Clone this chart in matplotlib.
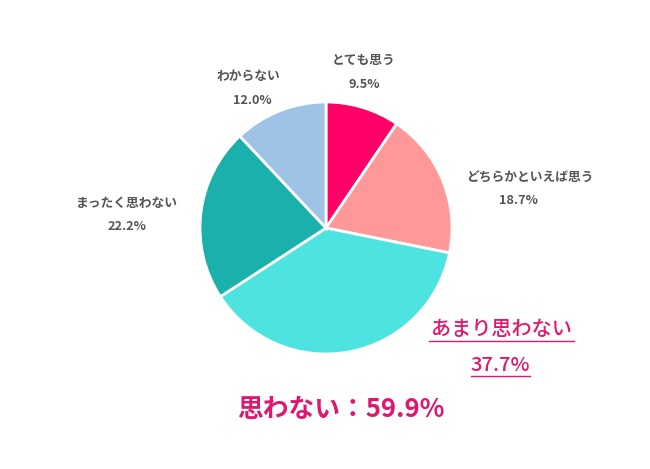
import matplotlib
matplotlib.use("Agg")
import matplotlib.pyplot as plt

plt.rcParams['font.family'] = ['Noto Sans CJK JP', 'DejaVu Sans']

labels = ["とても思う", "どちらかといえば思う", "あまり思わない", "まったく思わない", "わからない"]
values = [9.5, 18.7, 37.7, 22.2, 12.0]
colors = ["#FF0066", "#FF9999", "#4DE3E0", "#1AB0AC", "#9FC3E6"]
total_label = "思わない：59.9%"

W, H = 650, 469
fig = plt.figure(figsize=(W / 100, H / 100), dpi=100)
ax = fig.add_axes([0, 0, 1, 1])
ax.set_xlim(0, W)
ax.set_ylim(0, H)
ax.set_aspect('equal')
ax.axis('off')

def Y(py):
    return H - py

ax.pie(values, colors=colors, startangle=90, counterclock=False,
       center=(326, Y(228)), radius=126,
       wedgeprops=dict(edgecolor='white', linewidth=2))
ax.set_xlim(0, W)
ax.set_ylim(0, H)

gray = "#555555"
pos = {
    "とても思う": ((364, 60), (364, 84)),
    "どちらかといえば思う": ((530, 178), (518, 200)),
    "まったく思わない": ((127, 203), (127, 226)),
    "わからない": ((248, 76), (252, 100)),
}
for lab, v in zip(labels, values):
    if lab in pos:
        (x1, y1), (x2, y2) = pos[lab]
        ax.text(x1, Y(y1), lab, ha='center', va='center', fontsize=9.2,
                fontweight='bold', color=gray)
        ax.text(x2, Y(y2), f"{v:.1f}%", ha='center', va='center', fontsize=9.2,
                fontweight='bold', color=gray)

pink = "#E0176F"
ax.text(501, Y(329), labels[2], ha='center', va='center', fontsize=14.5,
        fontweight='medium', color=pink)
ax.plot([429, 574], [Y(341), Y(341)], color=pink, lw=1.0)
ax.text(500, Y(365), f"{values[2]:.1f}%", ha='center', va='center', fontsize=14.5,
        fontweight='medium', color=pink)
ax.plot([471, 530], [Y(376), Y(376)], color=pink, lw=1.0)

ax.text(341, Y(409), total_label, ha='center', va='center', fontsize=18.5,
        fontweight='bold', color=pink)

fig.savefig("out.png", dpi=100)
